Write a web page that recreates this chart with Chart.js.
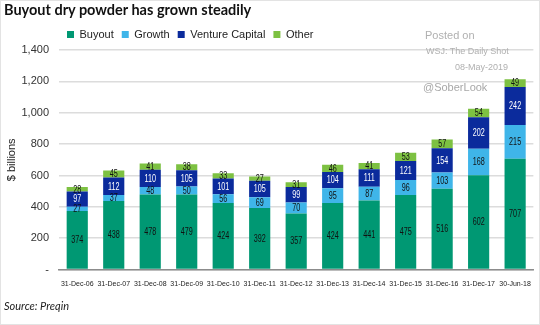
<!DOCTYPE html>
<html>
<head>
<meta charset="utf-8">
<script src="https://cdn.jsdelivr.net/npm/chart.js@4.4.1/dist/chart.umd.min.js"></script>
<style>
  html, body { margin: 0; padding: 0; background: #fff; }
  #box { position: relative; width: 540px; height: 325px; box-sizing: border-box; border: 1px solid #e3e3e3; overflow: hidden; }
  #box canvas { position: absolute; left: 0; top: 0; }
  .t { position: absolute; white-space: nowrap; font-family: "Liberation Sans", Arial, sans-serif; line-height: 1; }
  #title { left: 3px; top: 2px; font-family: Lato, sans-serif; font-weight: 700; font-size: 14.5px; color: #111; }
  #source { left: 3px; top: 299px; font-family: Lato, sans-serif; font-style: italic; font-size: 11px; color: #222; }
  .wm { color: #b0b0b0; }
</style>
</head>
<body>
<div id="box">
  <canvas id="chart" width="540" height="325"></canvas>
  <div class="t" id="title">Buyout dry powder has grown steadily</div>
  <div class="t wm" style="left:424px; top:29px; font-size:11px;">Posted on</div>
  <div class="t wm" style="left:425px; top:46px; font-size:9px;">WSJ: The Daily Shot</div>
  <div class="t wm" style="left:454px; top:62px; font-size:9px;">08-May-2019</div>
  <div class="t wm" style="left:422px; top:81px; font-size:11px; color:#a8a8a8;">@SoberLook</div>
  <div class="t" id="source">Source: Preqin</div>
</div>
<script>
// Dry powder par stratégie, en milliards de dollars
const periods = ["31-Dec-06", "31-Dec-07", "31-Dec-08", "31-Dec-09", "31-Dec-10", "31-Dec-11", "31-Dec-12",
  "31-Dec-13", "31-Dec-14", "31-Dec-15", "31-Dec-16", "31-Dec-17", "30-Jun-18"];
const buyout = [374, 438, 478, 479, 424, 392, 357, 424, 441, 475, 516, 602, 707];
const growth = [27, 37, 48, 50, 56, 69, 70, 95, 87, 96, 103, 168, 215];
const ventureCapital = [97, 112, 110, 105, 101, 105, 99, 104, 111, 121, 154, 202, 242];
const other = [28, 45, 41, 38, 33, 27, 31, 46, 41, 53, 57, 54, 49];
const yTicks = [0, 200, 400, 600, 800, 1000, 1200, 1400];

const sans = '"Liberation Sans", Arial, sans-serif';

// valeurs écrites au milieu de chaque segment (texte un peu resserré)
const segmentLabels = {
  id: "segmentLabels",
  afterDatasetsDraw(chart) {
    const ctx = chart.ctx;
    chart.data.datasets.forEach((ds, i) => {
      const meta = chart.getDatasetMeta(i);
      meta.data.forEach((bar, j) => {
        ctx.save();
        ctx.translate(bar.x, (bar.y + bar.base) / 2 + 0.5);
        ctx.scale(0.72, 1);
        ctx.font = "10px " + sans;
        ctx.textAlign = "center";
        ctx.textBaseline = "middle";
        ctx.fillStyle = ds.labelColor;
        ctx.fillText(ds.data[j], 0, 0);
        ctx.restore();
      });
    });
  },
};

// décale la légende vers la droite, au-dessus des barres
const legendShift = {
  id: "legendShift",
  afterLayout(chart) {
    chart.legend.left = 58;
  },
};

new Chart(document.getElementById("chart"), {
  type: "bar",
  data: {
    labels: periods,
    datasets: [
      { label: "Buyout", data: buyout, backgroundColor: "#009873", labelColor: "#111" },
      { label: "Growth", data: growth, backgroundColor: "#3fb5e9", labelColor: "#111" },
      { label: "Venture Capital", data: ventureCapital, backgroundColor: "#0b2b9c", labelColor: "#fff" },
      { label: "Other", data: other, backgroundColor: "#7dc142", labelColor: "#111" },
    ],
  },
  options: {
    responsive: false,
    animation: false,
    layout: { padding: { top: 20, left: 0, right: 3, bottom: 28 } },
    datasets: { bar: { categoryPercentage: 1, barPercentage: 0.58 } },
    plugins: {
      legend: {
        position: "top",
        align: "start",
        labels: {
          boxWidth: 7,
          boxHeight: 7,
          padding: 8,
          color: "#222",
          font: { family: sans, size: 11 },
        },
      },
      tooltip: { enabled: false },
    },
    scales: {
      x: {
        stacked: true,
        grid: { display: false, drawTicks: false },
        border: { color: "#8c8c8c", width: 1.5 },
        ticks: { color: "#222", font: { family: sans, size: 7 }, maxRotation: 0, autoSkip: false, padding: 10 },
      },
      y: {
        stacked: true,
        min: 0,
        max: 1400,
        afterBuildTicks(axis) {
          axis.ticks = yTicks.map((v) => ({ value: v }));
        },
        afterFit(axis) {
          axis.width = 58;
        },
        grid: { color: "#dcdcdc", lineWidth: 1.5, drawTicks: false },
        border: { display: false },
        ticks: {
          color: "#333",
          padding: 10,
          font: { family: sans, size: 11 },
          callback: (v) => (v === 0 ? "-" : v.toLocaleString("en-US")),
        },
        title: {
          display: true,
          text: "$ billions",
          color: "#222",
          font: { family: sans, size: 11 },
          padding: { top: 4, bottom: 0 },
        },
      },
    },
  },
  plugins: [segmentLabels, legendShift],
});
</script>
</body>
</html>
